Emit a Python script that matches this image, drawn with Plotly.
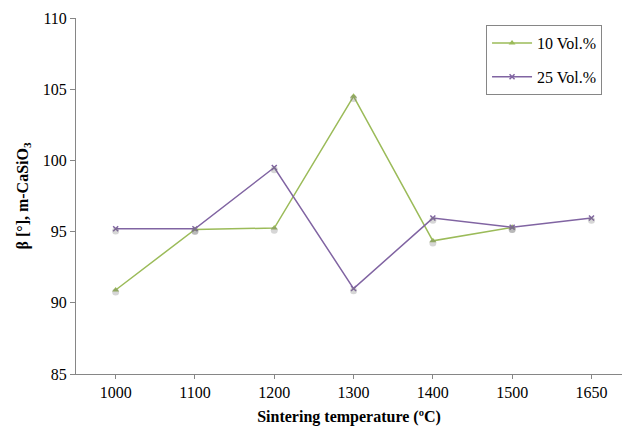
import plotly.graph_objects as go

temperatures = ["1000", "1100", "1200", "1300", "1400", "1500", "1650"]
beta_10vol = [90.9, 95.15, 95.25, 104.5, 94.35, 95.3, None]
beta_25vol = [95.2, 95.2, 99.5, 91.0, 95.95, 95.3, 95.95]

green = "#9BBB59"
purple = "#8064A2"
axis_grey = "#868686"
font_family = "Times New Roman, Liberation Serif, DejaVu Serif, serif"

fig = go.Figure()

# soft drop shadows under the markers
for vals in (beta_10vol, beta_25vol):
    fig.add_trace(go.Scatter(
        x=temperatures, y=vals, mode="markers", showlegend=False, hoverinfo="skip",
        marker=dict(symbol="circle", size=7, color="rgba(120,120,120,0.3)", line=dict(width=0)),
        xaxis="x2", yaxis="y2",
    ))

fig.add_trace(go.Scatter(
    x=temperatures, y=beta_10vol, name="10 Vol.%", mode="lines+markers",
    legendgroup="a",
    line=dict(color=green, width=1.5),
    marker=dict(symbol="triangle-up", size=6, color=green),
))
fig.add_trace(go.Scatter(
    x=temperatures, y=beta_25vol, name="25 Vol.%", mode="lines+markers",
    legendgroup="b",
    line=dict(color=purple, width=1.5),
    marker=dict(symbol="x-thin", size=5, color=purple, line=dict(color=purple, width=1.5)),
))

xrange = [-0.5, 6.385]
yrange = [85, 110]

fig.update_layout(
    width=622, height=434,
    margin=dict(l=76, r=0, t=18, b=60),
    paper_bgcolor="white", plot_bgcolor="white",
    font=dict(family=font_family, size=16, color="black"),
    showlegend=True,
    legend=dict(
        x=0.751, y=0.98, xanchor="left", yanchor="top",
        bordercolor=axis_grey, borderwidth=1, bgcolor="white",
        font=dict(family=font_family, size=16), traceorder="grouped", tracegroupgap=10,
        itemwidth=40,
    ),
    xaxis=dict(
        type="category", range=xrange,
        showline=True, linecolor=axis_grey, linewidth=1,
        ticks="outside", ticklen=4, tickcolor=axis_grey,
        tickfont=dict(family=font_family, size=16),
        showgrid=False, zeroline=False,
        title=dict(text="<b>Sintering temperature (ºC)</b>",
                   font=dict(family=font_family, size=16), standoff=10),
    ),
    yaxis=dict(
        range=yrange, dtick=5,
        showline=True, linecolor=axis_grey, linewidth=1,
        ticks="outside", ticklen=5, tickcolor=axis_grey,
        tickfont=dict(family=font_family, size=16),
        showgrid=False, zeroline=False,
        title=dict(text="<b>β [°], m-CaSiO<sub>3</sub></b>",
                   font=dict(family=font_family, size=16), standoff=10),
    ),
    xaxis2=dict(type="category", range=xrange, overlaying="x", visible=False),
    yaxis2=dict(range=[yrange[0] + 0.15, yrange[1] + 0.15], overlaying="y", visible=False),
)

fig.write_html("out.html")
